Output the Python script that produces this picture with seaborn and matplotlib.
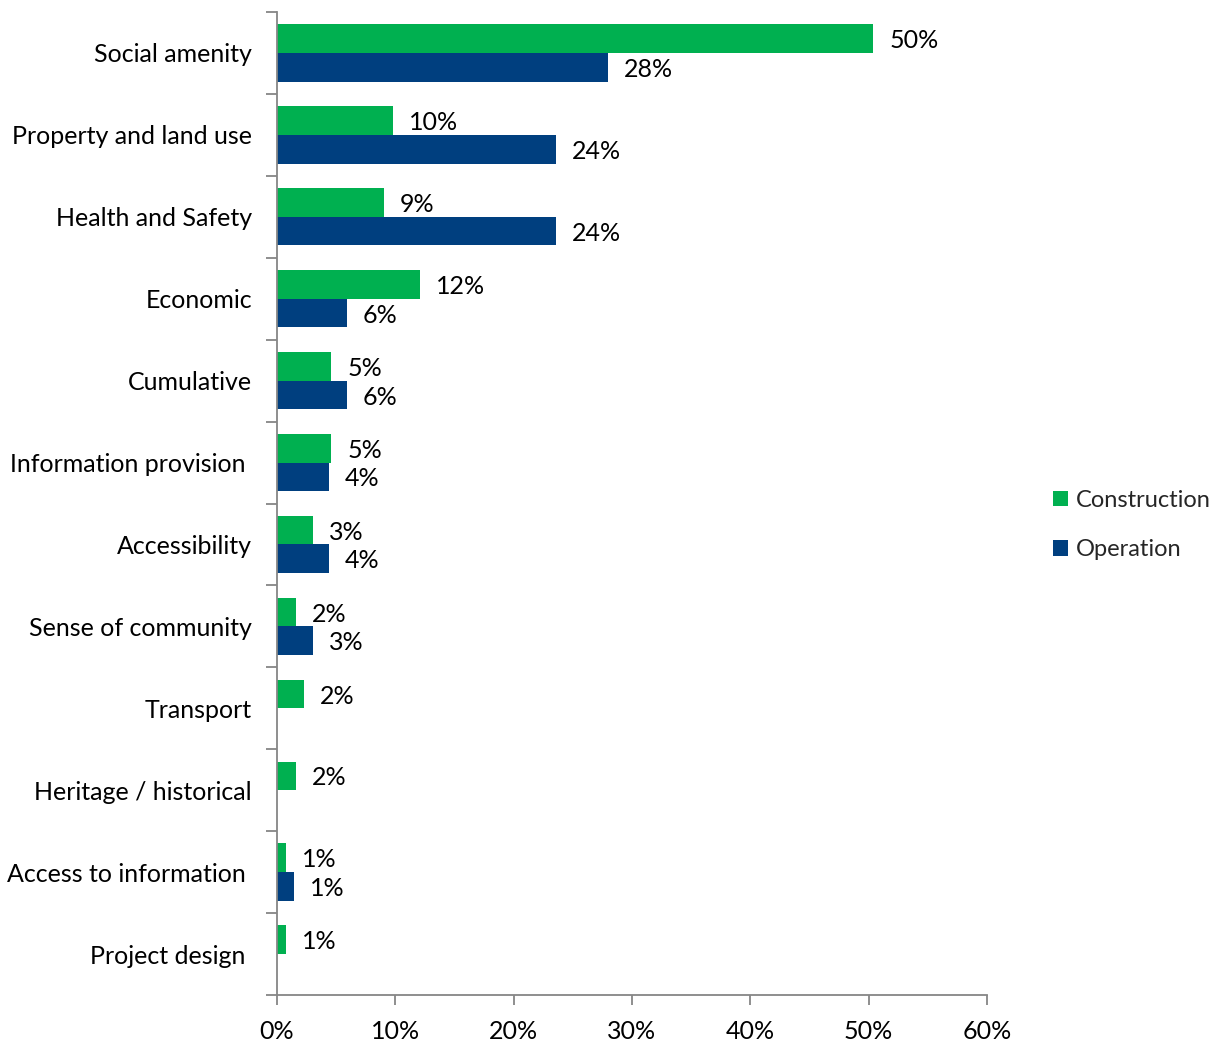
import numpy as np
import pandas as pd
import seaborn as sns
import matplotlib.pyplot as plt
from matplotlib.patches import Patch

# Issues raised, by project phase (share of all submissions, %)
categories = [
    "Social amenity",
    "Property and land use",
    "Health and Safety",
    "Economic",
    "Cumulative",
    "Information provision ",
    "Accessibility",
    "Sense of community",
    "Transport",
    "Heritage / historical",
    "Access to information ",
    "Project design ",
]
construction = [50.4, 9.8, 9.0, 12.1, 4.6, 4.6, 3.0, 1.6, 2.3, 1.6, 0.8, 0.8]
operation = [28.0, 23.6, 23.6, 5.9, 5.9, 4.4, 4.4, 3.0, np.nan, np.nan, 1.4, np.nan]
phases = ["Construction", "Operation"]
x_ticks = [0, 10, 20, 30, 40, 50, 60]

GREEN = "#00B050"
NAVY = "#003F7F"
GREY = "#868686"

df = pd.DataFrame({
    "Issue": categories * 2,
    "Share": construction + operation,
    "Phase": [phases[0]] * len(categories) + [phases[1]] * len(categories),
})

sns.set_theme(style="white")
plt.rcParams["font.family"] = ["Lato", "DejaVu Sans"]
FS = 18

fig, ax = plt.subplots(figsize=(12.16, 10.41), dpi=100)
fig.subplots_adjust(left=277 / 1216, right=987 / 1216,
                    top=1 - 12 / 1041, bottom=1 - 995 / 1041)

sns.barplot(data=df, y="Issue", x="Share", hue="Phase", orient="h",
            order=categories, hue_order=phases,
            palette=[GREEN, NAVY], saturation=1, width=0.7,
            dodge=True, legend=False, linewidth=0, edgecolor="none", ax=ax)

ax.set_xlim(0, 60)
ax.set_ylim(len(categories) - 0.5, -0.5)
ax.set_xlabel("")
ax.set_ylabel("")

# x axis: percentage ticks
ax.set_xticks(x_ticks)
ax.set_xticklabels([f"{t}%" for t in x_ticks], fontsize=FS, color="black")
ax.tick_params(axis="x", which="major", bottom=True, length=7, width=1.3,
               color=GREY, direction="out", pad=11)

# y axis: labels centred in each band, tick marks on band boundaries
ax.set_yticks(range(len(categories)))
ax.set_yticklabels(categories, fontsize=FS, color="black")
ax.tick_params(axis="y", which="major", left=True, length=0, pad=18)
ax.set_yticks(np.arange(-0.5, len(categories), 1), minor=True)
ax.tick_params(axis="y", which="minor", left=True, length=8, width=1.3,
               color=GREY, direction="out")

for side in ("top", "right"):
    ax.spines[side].set_visible(False)
for side in ("left", "bottom"):
    ax.spines[side].set_color(GREY)
    ax.spines[side].set_linewidth(1.3)

# value labels at the end of each bar
for patch in ax.patches:
    w = patch.get_width()
    if not np.isfinite(w) or w <= 0:
        continue
    yc = patch.get_y() + patch.get_height() / 2
    ax.annotate(f"{w:.0f}%", xy=(w, yc), xytext=(11.5, -1.5),
                textcoords="offset points", ha="left", va="center",
                fontsize=FS, color="black")

handles = [Patch(facecolor=GREEN, edgecolor="none"),
           Patch(facecolor=NAVY, edgecolor="none")]
ax.legend(handles, phases, loc="center left",
          bbox_to_anchor=(1053 / 1216, 1 - 525 / 1041),
          bbox_transform=fig.transFigure, frameon=False, fontsize=17,
          handlelength=0.65, handleheight=0.65, handletextpad=0.3,
          labelspacing=1.2, borderpad=0, borderaxespad=0)

fig.savefig("out.png", dpi=100)
